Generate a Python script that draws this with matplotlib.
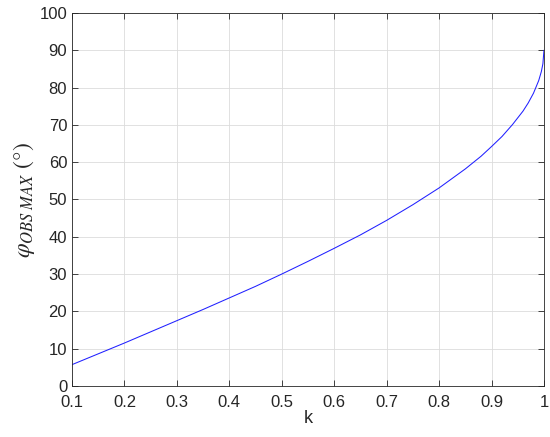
import matplotlib
matplotlib.use("Agg")
import matplotlib.pyplot as plt

# values
k = [0.10, 0.15, 0.20, 0.25, 0.30, 0.35, 0.40, 0.45, 0.50, 0.55, 0.60, 0.65,
     0.70, 0.75, 0.80, 0.85, 0.88, 0.90, 0.92, 0.94, 0.96, 0.97, 0.98, 0.99,
     0.995, 0.998, 1.0]
phi = [5.7, 8.6, 11.5, 14.5, 17.5, 20.5, 23.6, 26.7, 30.0, 33.4, 36.9, 40.5,
       44.4, 48.6, 53.1, 58.2, 61.6, 64.2, 66.9, 70.1, 73.7, 75.9, 78.5, 81.9,
       84.3, 86.4, 90.0]
xticks = [0.1, 0.2, 0.3, 0.4, 0.5, 0.6, 0.7, 0.8, 0.9, 1]
xticklabels = ["0.1", "0.2", "0.3", "0.4", "0.5", "0.6", "0.7", "0.8", "0.9", "1"]
yticks = list(range(0, 101, 10))

plt.rcParams["font.family"] = ["Liberation Sans", "DejaVu Sans"]
plt.rcParams["mathtext.fontset"] = "stix"

fig = plt.figure(figsize=(5.5, 4.37), dpi=100)
ax = fig.add_axes([0.131, 0.117, 0.858, 0.853])

ax.plot(k, phi, color="#2020ff", linewidth=0.75)

ax.set_xlim(0.1, 1)
ax.set_ylim(0, 100)
ax.set_xticks(xticks)
ax.set_xticklabels(xticklabels)
ax.set_yticks(yticks)
ax.grid(True, color="#dcdcdc", linewidth=0.6)
ax.set_axisbelow(True)
ax.tick_params(direction="in", top=True, right=True, labelsize=12,
               color="#262626", length=4, width=0.6, labelcolor="#262626")
ax.tick_params(axis="x", pad=6.5)
for s in ax.spines.values():
    s.set_color("#262626")
    s.set_linewidth(0.6)

ax.set_xlabel("k", fontsize=13, color="#262626", labelpad=0)
ax.set_ylabel(r"$\varphi_{OBS\ MAX}$" + " (°)", fontsize=17,
              family="STIXGeneral", color="#262626", labelpad=2)

fig.savefig("out.png", dpi=100)
